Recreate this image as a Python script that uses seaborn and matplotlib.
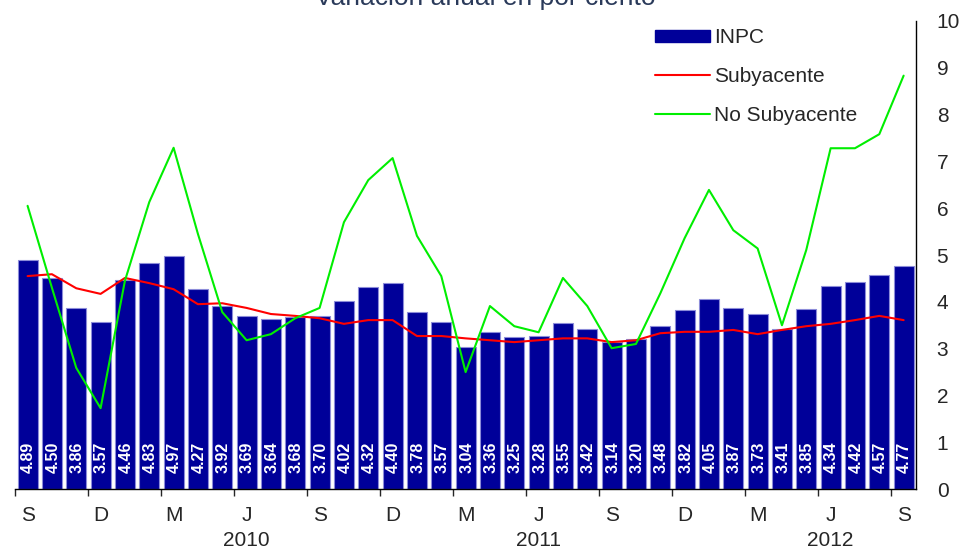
import matplotlib
matplotlib.use("Agg")
import matplotlib.pyplot as plt
import matplotlib.transforms as mtransforms
from matplotlib.patches import Patch
from matplotlib.lines import Line2D
import numpy as np
import seaborn as sns

# Sep 2009 .. Sep 2012
meses = ["S", "O", "N", "D", "E", "F", "M", "A", "M", "J", "J", "A"] * 3 + ["S"]
inpc = [4.89, 4.50, 3.86, 3.57, 4.46, 4.83, 4.97, 4.27, 3.92, 3.69, 3.64, 3.68,
        3.70, 4.02, 4.32, 4.40, 3.78, 3.57, 3.04, 3.36, 3.25, 3.28, 3.55, 3.42,
        3.14, 3.20, 3.48, 3.82, 4.05, 3.87, 3.73, 3.41, 3.85, 4.34, 4.42, 4.57, 4.77]
subyacente = [4.55, 4.59, 4.29, 4.17, 4.51, 4.40, 4.27, 3.95, 3.97, 3.87, 3.74, 3.70,
              3.65, 3.53, 3.61, 3.61, 3.27, 3.27, 3.22, 3.18, 3.14, 3.18, 3.22, 3.22,
              3.14, 3.18, 3.33, 3.36, 3.36, 3.40, 3.31, 3.40, 3.48, 3.53, 3.61, 3.70, 3.61]
no_subyacente = [6.05, 4.30, 2.59, 1.73, 4.45, 6.13, 7.29, 5.45, 3.78, 3.18, 3.31, 3.65,
                 3.87, 5.70, 6.60, 7.07, 5.41, 4.55, 2.50, 3.91, 3.48, 3.35, 4.51, 3.91,
                 3.01, 3.10, 4.18, 5.36, 6.39, 5.53, 5.14, 3.50, 5.11, 7.28, 7.28, 7.58, 8.83]
anios = ["2010", "2011", "2012"]
anio_pos = [9, 21, 33]

idx = np.arange(len(inpc))

sns.set_style("white")
plt.rcParams["font.family"] = ["Liberation Sans", "DejaVu Sans"]

fig = plt.figure(figsize=(9.64, 5.49), dpi=100)
ax = fig.add_axes([0.016, 0.109, 0.934, 0.853])

sns.barplot(x=idx, y=inpc, color="#000099", width=0.82, saturation=1,
            edgecolor="#8c8cd9", linewidth=0.8, ax=ax, native_scale=True)
sns.lineplot(x=idx, y=subyacente, color="#ff0000", linewidth=1.5, ax=ax)
sns.lineplot(x=idx, y=no_subyacente, color="#00ee00", linewidth=1.5, ax=ax)

for i, v in zip(idx, inpc):
    ax.text(i + 0.04, 0.34, f"{v:.2f}", rotation=90, ha="center", va="bottom",
            color="white", fontsize=11.5, fontweight="bold")

ax.set_xlim(-0.5, 36.5)
ax.set_ylim(0, 10)
ax.set_yticks(range(0, 11))
ax.yaxis.tick_right()
ax.tick_params(axis="y", direction="out", length=6, width=1, labelsize=15,
               right=True, left=False, pad=9)

major = [i - 0.5 for i in range(0, 37, 3)]
ax.set_xticks(major)
ax.set_xticklabels([])
ax.set_xticks(list(range(0, 37, 3)), minor=True)
ax.set_xticklabels([meses[i] for i in range(0, 37, 3)], minor=True)
ax.tick_params(axis="x", which="major", direction="out", length=5, width=1, bottom=True)
ax.tick_params(axis="x", which="minor", length=0, labelsize=15, pad=12)

trans = mtransforms.blended_transform_factory(ax.transData, ax.transAxes)
for p, a in zip(anio_pos, anios):
    ax.text(p, -0.109, a, transform=trans, ha="center", va="center", fontsize=15)

sns.despine(ax=ax, left=True, top=True, right=False, bottom=False)
for s in ["right", "bottom"]:
    ax.spines[s].set_color("black")
    ax.spines[s].set_linewidth(1)
ax.set_xlabel("")
ax.set_ylabel("")

handles = [Patch(facecolor="#000099", edgecolor="#000099"),
           Line2D([0], [0], color="#ff0000", linewidth=1.5),
           Line2D([0], [0], color="#00ee00", linewidth=1.5)]
fig.legend(handles, ["INPC", "Subyacente", "No Subyacente"], loc="upper left",
           bbox_to_anchor=(0.664, 0.975), frameon=False, fontsize=15,
           handlelength=2.65, handleheight=0.5, labelspacing=0.95, handletextpad=0.2,
           borderpad=0.2)

fig.text(0.503, 0.991, "Variación anual en por ciento", ha="center", va="baseline",
         fontsize=19, color="#2a3a5a")

fig.savefig("out.png", dpi=100)
